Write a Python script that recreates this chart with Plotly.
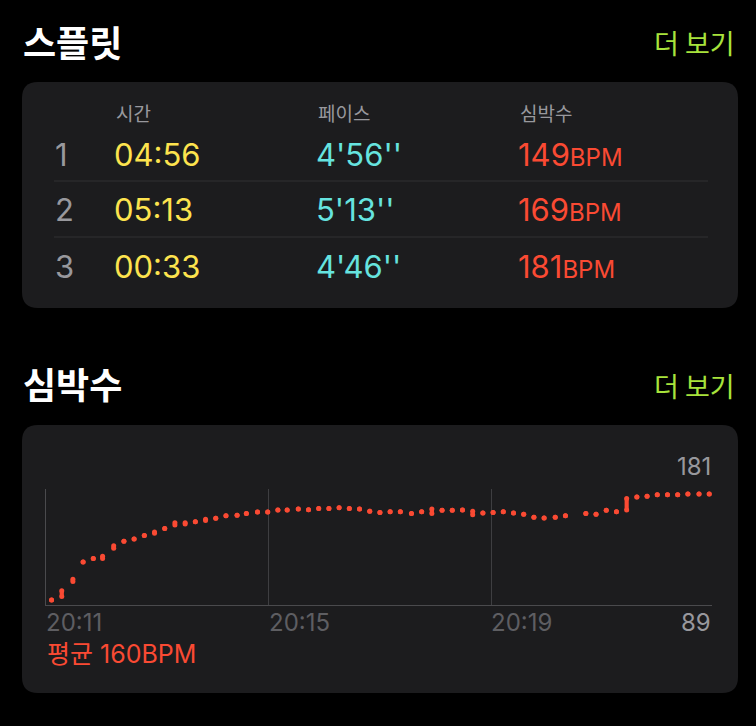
import plotly.graph_objects as go

W, H = 756, 726

# split table
split_no = ["1", "2", "3"]
split_time = ["04:56", "05:13", "00:33"]
split_pace = ["4'56''", "5'13''", "4'46''"]
split_hr = [149, 169, 181]
col_heads = ["시간", "페이스", "심박수"]

# heart rate samples (time, low, high)
hr_times = [
    "20:11:06", "20:11:17", "20:11:29", "20:11:40", "20:11:51", "20:12:01", "20:12:13", "20:12:24",
    "20:12:35", "20:12:46", "20:12:57", "20:13:08", "20:13:19", "20:13:30", "20:13:41", "20:13:52",
    "20:14:03", "20:14:14", "20:14:26", "20:14:36", "20:14:48", "20:14:59", "20:15:10", "20:15:20",
    "20:15:32", "20:15:43", "20:15:54", "20:16:05", "20:16:16", "20:16:27", "20:16:38", "20:16:49",
    "20:17:00", "20:17:11", "20:17:22", "20:17:34", "20:17:45", "20:17:56", "20:18:07", "20:18:18",
    "20:18:29", "20:18:40", "20:18:51", "20:19:02", "20:19:13", "20:19:24", "20:19:35", "20:19:46",
    "20:19:57", "20:20:09", "20:20:20", "20:20:42", "20:20:53", "20:21:04", "20:21:15", "20:21:26",
    "20:21:37", "20:21:48", "20:21:59", "20:22:10", "20:22:21", "20:22:32", "20:22:44", "20:22:55",
]
hr_low = [
    89, 92, 105, 122, 125, 125, 134, 140, 142, 145, 147, 151, 154, 155, 157, 158,
    160, 162, 162.5, 164, 165.4, 165.4, 167, 167, 168, 167.4, 168.3, 168.3, 169, 168.3, 168, 166,
    165, 165.6, 165.6, 164, 165.6, 164, 166.8, 166.8, 167, 163, 164.5, 165, 165.6, 164.5, 163.4, 160.8,
    160.2, 160.8, 162, 164, 163.4, 166.8, 165.6, 167, 178.4, 179, 180.4, 180.4, 180.4, 181, 181, 181,
]
hr_high = [
    89, 97, 107, 122, 125, 127, 136, 140, 142, 145, 148, 151, 156, 156, 157, 159,
    160, 162, 162.5, 164, 165.4, 165.4, 167, 167, 168, 167.4, 168.3, 168.3, 169, 168.3, 168, 166,
    165, 165.6, 165.6, 164, 165.6, 168, 166.8, 166.8, 167, 166, 164.5, 165, 165.6, 164.5, 163.4, 160.8,
    160.2, 160.8, 162, 164, 163.4, 166.8, 165.6, 177, 178.4, 179, 180.4, 180.4, 180.4, 181, 181, 181,
]
hr_max, hr_min, hr_avg = 181, 89, 160
time_ticks = ["20:11", "20:15", "20:19"]

DAY = "2023-05-20 "
RED = "#fa4a33"
YELLOW = "#fde34e"
CYAN = "#66e3df"
GREEN = "#a8e33c"
GREY = "#98989d"
DIM = "#5e5e62"
CARD = "#1c1c1e"
KR = "Noto Sans CJK KR"
NUM = "Inter, Noto Sans CJK KR"


def px(x):
    return x / W


def py(y):
    return 1 - y / H


def card(x0, y0, x1, y1, r=16):
    rx, ry = r / W, r / H
    a, b, c, d = px(x0), py(y0), px(x1), py(y1)
    path = (f"M{a + rx},{b} L{c - rx},{b} Q{c},{b} {c},{b - ry} "
            f"L{c},{d + ry} Q{c},{d} {c - rx},{d} L{a + rx},{d} "
            f"Q{a},{d} {a},{d + ry} L{a},{b - ry} Q{a},{b} {a + rx},{b} Z")
    return dict(type="path", path=path, xref="paper", yref="paper",
                fillcolor=CARD, line=dict(width=0), layer="below")


def label(x, y, text, size, color, family=KR, anchor="left", bold=False):
    if bold:
        text = f"<b>{text}</b>"
    return dict(x=px(x), y=py(y), xref="paper", yref="paper", text=text, showarrow=False,
                xanchor=anchor, yanchor="middle", font=dict(size=size, color=color, family=family))


x_vals = [DAY + t for t in hr_times]
span = [h - l for l, h in zip(hr_low, hr_high)]

fig = go.Figure()
fig.add_trace(go.Bar(x=x_vals, y=span, base=hr_low, width=4500,
                     marker=dict(color=RED, line=dict(width=0)), hoverinfo="skip"))
fig.add_trace(go.Scatter(x=x_vals + x_vals, y=hr_low + hr_high, mode="markers",
                         marker=dict(size=5, color=RED, line=dict(width=0)), hoverinfo="skip"))

shapes = [card(22, 82, 738, 308), card(22, 425, 738, 693)]
for yy in (181, 237):
    shapes.append(dict(type="line", xref="paper", yref="paper", x0=px(54), x1=px(708),
                       y0=py(yy), y1=py(yy), line=dict(color="#303032", width=1)))

ann = [
    label(21, 41, "스플릿", 36, "white", bold=True),
    label(737, 43, "더 보기", 27, GREEN, anchor="right"),
    label(21, 383, "심박수", 36, "white", bold=True),
    label(737, 385, "더 보기", 27, GREEN, anchor="right"),
]
for cx, head in zip((114, 316, 518), col_heads):
    ann.append(label(cx, 112, head, 19, GREY))
for i, yy in enumerate((154, 210, 266)):
    ann.append(label(53, yy, split_no[i], 31, GREY, family=NUM))
    ann.append(label(112, yy, split_time[i], 31, YELLOW, family=NUM))
    ann.append(label(314, yy, split_pace[i], 31, CYAN, family=NUM))
    ann.append(label(516, yy, f"{split_hr[i]}<span style='font-size:24px'>BPM</span>",
                     31, RED, family=NUM))

ann.append(label(713, 466, str(hr_max), 24, GREY, family=NUM, anchor="right"))
ann.append(label(713, 622, str(hr_min), 24, GREY, family=NUM, anchor="right"))
for t in time_ticks:
    ann.append(dict(x=DAY + t + ":00", xref="x", y=py(622), yref="paper", text=t,
                    showarrow=False, xanchor="left", yanchor="middle", xshift=-2,
                    font=dict(size=24, color=DIM, family=NUM)))
ann.append(label(45, 654, f"평균 {hr_avg}BPM", 25, RED, family=NUM))

fig.update_layout(
    width=W, height=H,
    margin=dict(l=0, r=0, t=0, b=0),
    paper_bgcolor="black", plot_bgcolor="rgba(0,0,0,0)",
    showlegend=False, barmode="overlay",
    shapes=shapes, annotations=ann,
    xaxis=dict(domain=[px(46), px(712)], type="date",
               range=[DAY + "20:11:00", DAY + "20:22:58"],
               tickvals=[DAY + "20:15:00", DAY + "20:19:00"], showticklabels=False,
               showgrid=True, gridcolor="#3e3e41", gridwidth=1,
               showline=True, linecolor="#4a4a4d", linewidth=1, zeroline=False),
    yaxis=dict(domain=[py(605), py(489)], range=[84.7, 185.3],
               showgrid=False, showticklabels=False, zeroline=False,
               showline=True, linecolor="#4a4a4d", linewidth=1),
)

fig.write_html("out.html", config={"displayModeBar": False},
               post_script="document.body.style.margin='0';"
               "document.body.style.background='black';")
